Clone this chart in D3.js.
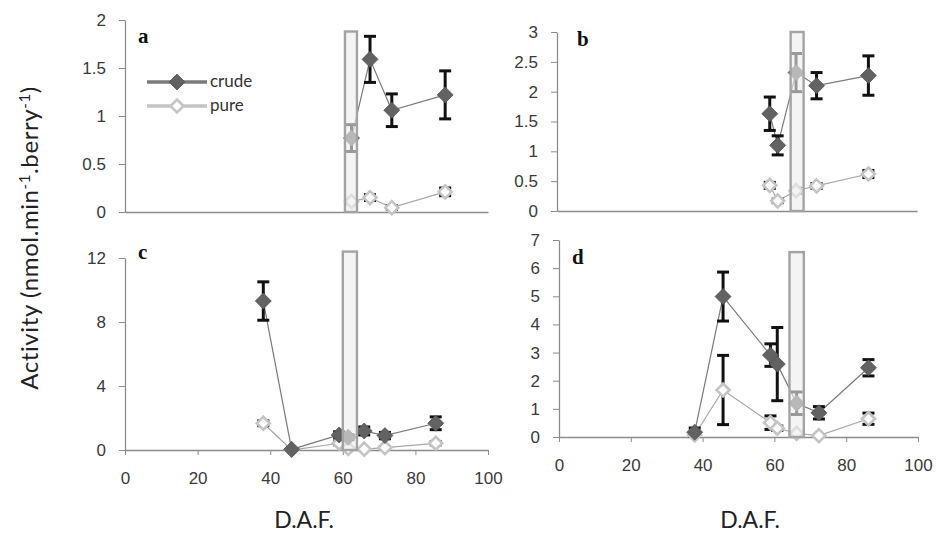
<!DOCTYPE html>
<html>
<head>
<meta charset="utf-8">
<script src="https://cdn.jsdelivr.net/npm/d3@7/dist/d3.min.js"></script>
<style>
  body { margin: 0; background: #fff; }
  svg { display: block; font-family: Lato, "Open Sans", sans-serif; }
</style>
</head>
<body>
<svg id="chart" width="936" height="538"></svg>
<script>
// ---- data ----
var xTicks = [0, 20, 40, 60, 80, 100];

// panel a
var aDays = [62.4, 67.5, 73.5, 88.2];
var aCrude = [0.77, 1.59, 1.06, 1.22];
var aCrudeErr = [0.14, 0.24, 0.17, 0.25];
var aPure = [0.11, 0.15, 0.045, 0.21];
var aPureErr = [0.02, 0.03, 0.02, 0.04];
var aBand = [60.6, 63.9, 1.88];
var aTicks = [0, 0.5, 1, 1.5, 2];

// panel b
var bDays = [59.1, 61.3, 66.4, 72.1, 86.5];
var bCrude = [1.63, 1.1, 2.32, 2.1, 2.27];
var bCrudeErr = [0.28, 0.16, 0.32, 0.22, 0.33];
var bPure = [0.43, 0.17, 0.34, 0.42, 0.62];
var bPureErr = [0.05, 0.03, 0.04, 0.04, 0.06];
var bBand = [64.9, 68.5, 3];
var bTicks = [0, 0.5, 1, 1.5, 2, 2.5, 3];

// panel c
var cDays = [38.1, 45.9, 59.0, 61.5, 65.9, 71.6, 85.6];
var cCrude = [9.31, 0.04, 0.94, 0.8, 1.19, 0.9, 1.67];
var cCrudeErr = [1.2, 0.05, 0.2, 0.15, 0.25, 0.2, 0.4];
var cPure = [1.67, 0.0, 0.42, 0.1, 0.05, 0.15, 0.42];
var cPureErr = [0.15, 0.02, 0.1, 0.05, 0.04, 0.05, 0.1];
var cBand = [60.0, 63.9, 12.4];
var cTicks = [0, 4, 8, 12];

// panel d
var dDays = [37.8, 45.7, 58.9, 60.8, 66.2, 72.4, 86.2];
var dCrude = [0.17, 4.99, 2.91, 2.59, 1.2, 0.86, 2.46];
var dCrudeErr = [0.15, 0.87, 0.4, 1.3, 0.4, 0.22, 0.29];
var dPure = [0.07, 1.67, 0.51, 0.31, 0.13, 0.05, 0.65];
var dPureErr = [0.04, 1.23, 0.24, 0.08, 0.05, 0.03, 0.2];
var dBand = [64.2, 68.2, 6.57];
var dTicks = [0, 1, 2, 3, 4, 5, 6, 7];

var panels = [
  { id: "a", days: aDays, crude: aCrude, crudeErr: aCrudeErr, pure: aPure, pureErr: aPureErr, band: aBand, ticks: aTicks,
    ymax: 2, x0: 125, x1: 488, y0: 212, y1: 20, xLabels: false, lab: [138, 43], legend: true },
  { id: "b", days: bDays, crude: bCrude, crudeErr: bCrudeErr, pure: bPure, pureErr: bPureErr, band: bBand, ticks: bTicks,
    ymax: 3, x0: 557, x1: 917, y0: 211, y1: 32, xLabels: false, lab: [577, 46] },
  { id: "c", days: cDays, crude: cCrude, crudeErr: cCrudeErr, pure: cPure, pureErr: cPureErr, band: cBand, ticks: cTicks,
    ymax: 12, x0: 125, x1: 488, y0: 450, y1: 258, xLabels: true, lab: [138, 259] },
  { id: "d", days: dDays, crude: dCrude, crudeErr: dCrudeErr, pure: dPure, pureErr: dPureErr, band: dBand, ticks: dTicks,
    ymax: 7, x0: 559, x1: 918, y0: 437, y1: 240, xLabels: true, lab: [572, 264] }
];

var crudeFill = "#626262", crudeLine = "#7b7b7b";
var pureStroke = "#c4c4c4", pureLine = "#a9a9a9";
var axisColor = "#8c8c8c";

var svg = d3.select("#chart");

function diamond(r) {
  return "M0," + (-r) + "L" + r + ",0L0," + r + "L" + (-r) + ",0Z";
}

panels.forEach(function(p) {
  var x = d3.scaleLinear().domain([0, 100]).range([p.x0, p.x1]);
  var y = d3.scaleLinear().domain([0, p.ymax]).range([p.y0, p.y1]);
  var g = svg.append("g");

  // y axis
  var ya = g.append("g")
      .attr("transform", "translate(" + p.x0 + ",0)")
      .call(d3.axisLeft(y).tickValues(p.ticks).tickSizeOuter(0).tickSizeInner(6).tickPadding(13)
        .tickFormat(d3.format("~g")));
  ya.select(".domain").attr("stroke", axisColor).attr("stroke-width", 1.3);
  ya.selectAll(".tick line").attr("stroke", axisColor);
  ya.selectAll(".tick text").attr("fill", "#3a3a3a").style("font-size", "17px");

  // x axis
  var xa = g.append("g")
      .attr("transform", "translate(0," + p.y0 + ")")
      .call(d3.axisBottom(x).tickValues(p.xLabels ? xTicks : []).tickSizeOuter(0)
        .tickSizeInner(5).tickPadding(17));
  xa.select(".domain").attr("stroke", axisColor).attr("stroke-width", 1.3);
  xa.selectAll(".tick line").attr("stroke", axisColor);
  xa.selectAll(".tick text").attr("fill", "#3a3a3a").style("font-size", "17px");

  var line = d3.line().x(function(d) { return x(d[0]); }).y(function(d) { return y(d[1]); });
  var crudePts = d3.zip(p.days, p.crude, p.crudeErr);
  var purePts = d3.zip(p.days, p.pure, p.pureErr);

  g.append("path").datum(purePts).attr("d", line)
      .attr("fill", "none").attr("stroke", pureLine).attr("stroke-width", 1.2);
  g.append("path").datum(crudePts).attr("d", line)
      .attr("fill", "none").attr("stroke", crudeLine).attr("stroke-width", 1.2);

  // error bars
  [purePts, crudePts].forEach(function(pts) {
    var eb = g.append("g").selectAll("g").data(pts).enter().append("g")
        .attr("stroke", "#111").attr("stroke-width", 3);
    eb.append("line")
        .attr("x1", function(d) { return x(d[0]); }).attr("x2", function(d) { return x(d[0]); })
        .attr("y1", function(d) { return y(Math.max(0, d[1] - d[2])); })
        .attr("y2", function(d) { return y(d[1] + d[2]); });
    eb.append("line")
        .attr("x1", function(d) { return x(d[0]) - 6; }).attr("x2", function(d) { return x(d[0]) + 6; })
        .attr("y1", function(d) { return y(d[1] + d[2]); }).attr("y2", function(d) { return y(d[1] + d[2]); });
    eb.append("line")
        .attr("x1", function(d) { return x(d[0]) - 6; }).attr("x2", function(d) { return x(d[0]) + 6; })
        .attr("y1", function(d) { return y(Math.max(0, d[1] - d[2])); })
        .attr("y2", function(d) { return y(Math.max(0, d[1] - d[2])); });
  });

  // markers
  g.append("g").selectAll("path").data(purePts).enter().append("path")
      .attr("d", diamond(6.5))
      .attr("transform", function(d) { return "translate(" + x(d[0]) + "," + y(d[1]) + ")"; })
      .attr("fill", "#fff").attr("stroke", pureStroke).attr("stroke-width", 2.6);
  g.append("g").selectAll("path").data(crudePts).enter().append("path")
      .attr("d", diamond(8))
      .attr("transform", function(d) { return "translate(" + x(d[0]) + "," + y(d[1]) + ")"; })
      .attr("fill", crudeFill).attr("stroke", "#555").attr("stroke-width", 0.8);

  // shaded period band
  g.append("rect")
      .attr("x", x(p.band[0])).attr("width", x(p.band[1]) - x(p.band[0]))
      .attr("y", y(p.band[2])).attr("height", y(0) - y(p.band[2]))
      .attr("fill", "rgba(238,238,238,0.62)").attr("stroke", "#a3a3a3").attr("stroke-width", 2.4);

  // panel letter
  g.append("text").attr("x", p.lab[0]).attr("y", p.lab[1])
      .style("font-family", "'Liberation Serif', serif").style("font-weight", "bold")
      .style("font-size", "21px").attr("fill", "#111").text(p.id);

  if (p.legend) {
    var lg = g.append("g");
    var rows = [["crude", crudeLine, true], ["pure", pureStroke, false]];
    rows.forEach(function(r, i) {
      var ly = 82 + i * 24;
      lg.append("line").attr("x1", 147).attr("x2", 207).attr("y1", ly).attr("y2", ly)
          .attr("stroke", r[1]).attr("stroke-width", 3.5);
      lg.append("path").attr("d", diamond(r[2] ? 8 : 6.5))
          .attr("transform", "translate(177," + ly + ")")
          .attr("fill", r[2] ? crudeFill : "#fff")
          .attr("stroke", r[2] ? "#555" : pureStroke).attr("stroke-width", r[2] ? 0.8 : 2.6);
      lg.append("text").attr("x", 210).attr("y", ly + 5).style("font-size", "17px")
          .attr("fill", "#333").text(r[0]);
    });
  }
});

// shared axis titles
var yt = svg.append("text")
    .attr("transform", "translate(38,238) rotate(-90)")
    .attr("text-anchor", "middle").style("font-size", "24px").style("letter-spacing", "0.6px")
    .attr("fill", "#222");
yt.append("tspan").text("Activity (nmol.min");
yt.append("tspan").attr("dy", -8).style("font-size", "15px").text("-1");
yt.append("tspan").attr("dy", 8).text(".berry");
yt.append("tspan").attr("dy", -8).style("font-size", "15px").text("-1");
yt.append("tspan").attr("dy", 8).text(")");

svg.append("text").attr("x", 304).attr("y", 528).attr("text-anchor", "middle")
    .style("font-size", "23px").attr("fill", "#222").text("D.A.F.");
svg.append("text").attr("x", 750).attr("y", 528).attr("text-anchor", "middle")
    .style("font-size", "23px").attr("fill", "#222").text("D.A.F.");
</script>
</body>
</html>
